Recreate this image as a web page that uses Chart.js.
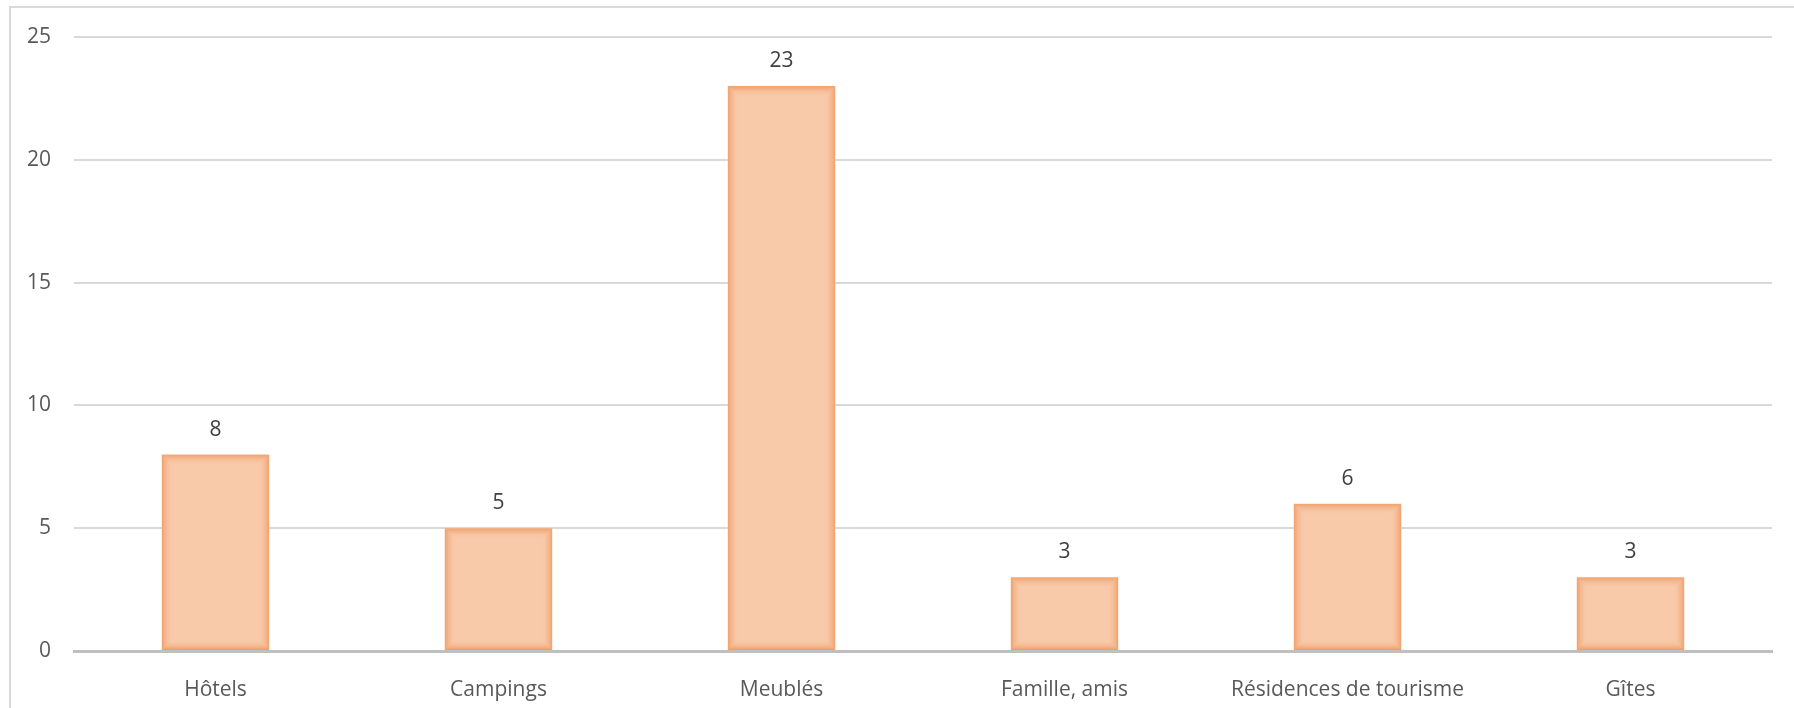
<!DOCTYPE html>
<html>
<head>
<meta charset="utf-8">
<script src="https://cdn.jsdelivr.net/npm/chart.js@4.4.1/dist/chart.umd.min.js"></script>
<style>
  html, body { margin: 0; padding: 0; background: #fff; overflow: hidden; }
  #wrap { position: relative; width: 1794px; height: 708px; }
  #frame { position: absolute; left: 9px; top: 6px; width: 1900px; height: 800px;
           border-left: 2px solid #d9d9d9; border-top: 2px solid #d9d9d9; }
  canvas { position: absolute; left: 0; top: 0; }
</style>
</head>
<body>
<div id="wrap">
  <div id="frame"></div>
  <canvas id="hebergement" width="1794" height="708"></canvas>
</div>
<script>
var categories = ['Hôtels', 'Campings', 'Meublés', 'Famille, amis', 'Résidences de tourisme', 'Gîtes'];
var values = [8, 5, 23, 3, 6, 3];
var yTicks = [0, 5, 10, 15, 20, 25];

// inner glow on bars + value labels above them
var barLook = {
  id: 'barLook',
  afterDatasetsDraw: function(chart) {
    var ctx = chart.ctx;
    var meta = chart.getDatasetMeta(0);
    meta.data.forEach(function(bar, i) {
      var left = bar.x - bar.width / 2;
      var top = bar.y;
      var w = bar.width;
      var h = bar.base - bar.y;
      ctx.save();
      ctx.beginPath();
      ctx.rect(left, top, w, h);
      ctx.clip();
      var steps = 10;
      for (var k = 0; k < steps; k++) {
        var f = 1 - k / steps;
        ctx.strokeStyle = 'rgba(238, 140, 78,' + (0.7 * f * f).toFixed(3) + ')';
        ctx.lineWidth = 1;
        ctx.strokeRect(left + k + 0.5, top + k + 0.5, w - 2 * k - 1, h - 2 * k - 1);
      }
      ctx.restore();

      ctx.save();
      ctx.fillStyle = '#404040';
      ctx.font = '21px "Open Sans"';
      ctx.textAlign = 'center';
      ctx.textBaseline = 'middle';
      ctx.fillText(values[i], bar.x, bar.y - 25);
      ctx.restore();
    });
  }
};

const config = {
  type: 'bar',
  data: {
    labels: categories,
    datasets: [{
      data: values,
      backgroundColor: '#f8caaa',
      borderWidth: 0,
      barPercentage: 0.38,
      categoryPercentage: 1.0
    }]
  },
  options: {
    responsive: false,
    animation: false,
    layout: { padding: { left: 0, right: 22, top: 37, bottom: 0 } },
    plugins: { legend: { display: false }, tooltip: { enabled: false } },
    scales: {
      x: {
        grid: { display: false },
        border: { color: '#bfbfbf', width: 3 },
        ticks: { color: '#595959', font: { family: 'Open Sans', size: 21 }, padding: 18, maxRotation: 0 },
        afterFit: function(scale) { scale.height = 57; }
      },
      y: {
        min: 0,
        max: 25,
        afterBuildTicks: function(scale) {
          scale.ticks = yTicks.map(function(v) { return { value: v }; });
        },
        grid: { color: '#d9d9d9', lineWidth: 2, drawTicks: false },
        border: { display: false },
        ticks: { color: '#595959', font: { family: 'Open Sans', size: 21 }, padding: 23 },
        afterFit: function(scale) { scale.width = 74; }
      }
    }
  },
  plugins: [barLook]
};

const hebergementChart = new Chart(document.getElementById('hebergement'), config);
</script>
</body>
</html>
